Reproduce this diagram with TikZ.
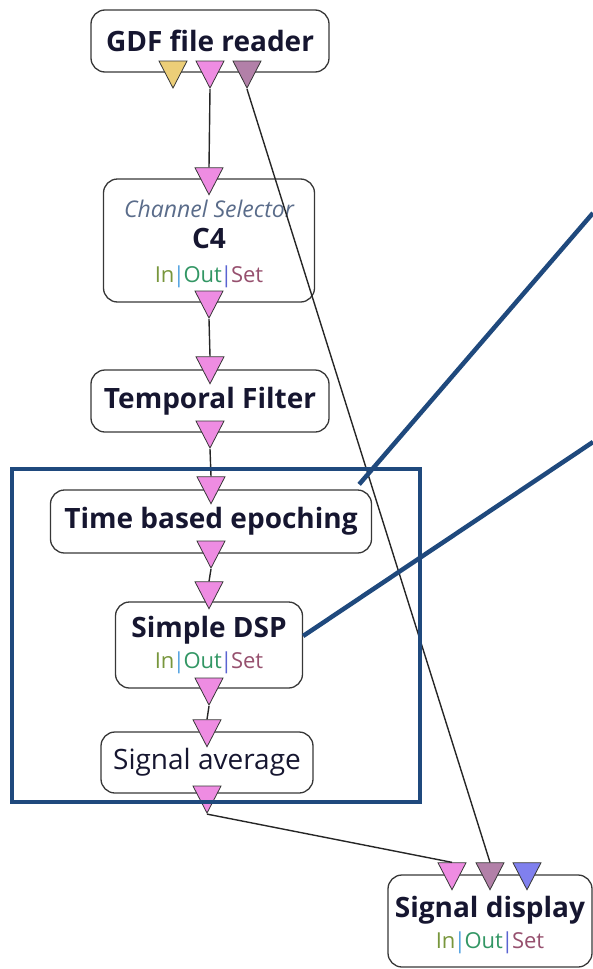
\documentclass[tikz,border=0pt]{standalone}
\usepackage{fontspec}
\setmainfont{Open Sans}
\usetikzlibrary{shapes.geometric}
\definecolor{yellowport}{RGB}{236,206,120}
\definecolor{pinkport}{RGB}{238,140,226}
\definecolor{mauveport}{RGB}{178,128,168}
\definecolor{blueport}{RGB}{128,128,238}
\definecolor{boxline}{RGB}{55,55,55}
\definecolor{nodetext}{RGB}{22,22,48}
\definecolor{seltext}{RGB}{90,108,138}
\definecolor{calloutblue}{RGB}{31,73,125}
\definecolor{ioin}{RGB}{120,150,60}
\definecolor{iobar}{RGB}{80,160,224}
\definecolor{ioout}{RGB}{50,150,100}
\definecolor{iobarb}{RGB}{90,100,210}
\definecolor{ioset}{RGB}{150,80,110}
\newcommand{\iolabel}{{\mdseries\fontsize{22}{24}\selectfont\color{ioin}In\kern-1.5pt\color{iobar}|\kern-1.5pt\color{ioout}Out\kern-1.5pt\color{iobarb}|\kern-1.5pt\color{ioset}Set}}

\begin{document}
\begin{tikzpicture}[x=1pt,y=-1pt,
  box/.style={draw=boxline,line width=1.3pt,rounded corners=14pt,inner sep=0pt,align=center,text=nodetext,font=\fontsize{28}{31}\selectfont\bfseries},
  port/.style={isosceles triangle,isosceles triangle stretches,shape border rotate=270,minimum width=28pt,minimum height=27pt,inner sep=0pt,draw=boxline,line width=0.8pt,fill=#1,anchor=lower side},
  link/.style={draw=black!85,line width=1.4pt},
  callout/.style={draw=calloutblue,line width=4.5pt}]
\useasboundingbox (0,0) rectangle (593,969);

\node[box,minimum width=238pt,minimum height=62pt] (gdf) at (210,41) {GDF file reader};
\node[box,minimum width=211pt,minimum height=123pt] (chsel) at (209,240.5) {\rule{0pt}{24pt}{\itshape\mdseries\fontsize{23}{26}\selectfont\color{seltext}Channel Selector}\\C4\\[3pt]\iolabel};
\node[box,minimum width=238pt,minimum height=62pt] (tfilt) at (210,401) {Temporal Filter};
\node[box,minimum width=321pt,minimum height=63pt] (epoch) at (211,521.5) {Time based epoching};
\node[box,minimum width=187pt,minimum height=86pt] (dsp) at (209,645) {Simple DSP\\\iolabel};
\node[box,minimum width=212pt,minimum height=61pt,font=\fontsize{28}{31}\selectfont] (avg) at (207,762.5) {Signal average};
\node[box,minimum width=204pt,minimum height=92pt] (disp) at (490,921) {\rule{0pt}{29pt}Signal display\\\iolabel};

\node[port=yellowport] (gdfA) at ([xshift=-37pt,yshift=12pt]gdf.south) {};
\node[port=pinkport] (gdfB) at ([yshift=12pt]gdf.south) {};
\node[port=mauveport] (gdfC) at ([xshift=37pt,yshift=12pt]gdf.south) {};
\node[port=pinkport] (chselIn) at ([yshift=11pt]chsel.north) {};
\node[port=pinkport] (chselOut) at ([yshift=12pt]chsel.south) {};
\node[port=pinkport] (tfiltIn) at ([yshift=13pt]tfilt.north) {};
\node[port=pinkport] (tfiltOut) at ([yshift=12pt]tfilt.south) {};
\node[port=pinkport] (epochIn) at ([yshift=13pt]epoch.north) {};
\node[port=pinkport] (epochOut) at ([yshift=13pt]epoch.south) {};
\node[port=pinkport] (dspIn) at ([yshift=20pt]dsp.north) {};
\node[port=pinkport] (dspOut) at ([yshift=11pt]dsp.south) {};
\node[port=pinkport] (avgIn) at ([yshift=12pt]avg.north) {};
\node[port=pinkport] (avgOut) at ([yshift=8pt]avg.south) {};
\node[port=pinkport] (dispA) at ([xshift=-38pt,yshift=12pt]disp.north) {};
\node[port=mauveport] (dispB) at ([yshift=12pt]disp.north) {};
\node[port=blueport] (dispC) at ([xshift=37pt,yshift=12pt]disp.north) {};

\draw[link] (gdfB.apex) -- (chselIn.lower side);
\draw[link] (chselOut.apex) -- (tfiltIn.lower side);
\draw[link] (tfiltOut.apex) -- (epochIn.lower side);
\draw[link] (epochOut.apex) -- (dspIn.lower side);
\draw[link] (dspOut.apex) -- (avgIn.lower side);
\draw[link] (gdfC.apex) -- (dispB.lower side);
\draw[link] (avgOut.apex) -- (dispA.lower side);

\draw[callout,line join=miter] (12,469) rectangle (420,802);
\coordinate (tipA) at (593,213);
\coordinate (tipB) at (593,442);
\draw[callout] ([xshift=-13pt,yshift=5pt]epoch.north east) -- (tipA);
\draw[callout] ([yshift=9pt]dsp.east) -- (tipB);
\end{tikzpicture}
\end{document}
